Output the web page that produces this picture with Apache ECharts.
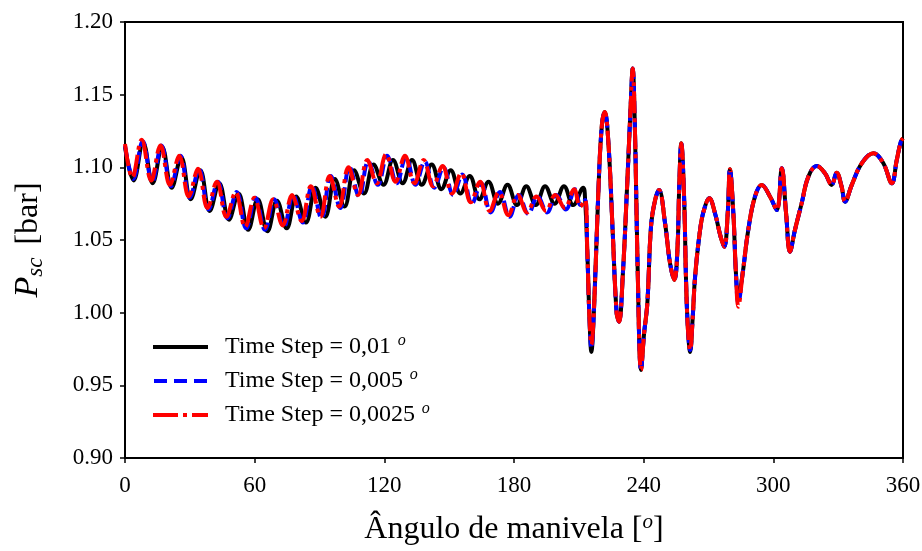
<!DOCTYPE html>
<html>
<head>
<meta charset="utf-8">
<script src="https://cdn.jsdelivr.net/npm/echarts@6/dist/echarts.min.js"></script>
<style>
  html, body { margin: 0; padding: 0; background: #fff; }
  #chart { width: 922px; height: 551px; }
</style>
</head>
<body>
<div id="chart"></div>
<script>
// series names (legend)
var names = ['Time Step = 0,01', 'Time Step = 0,005', 'Time Step = 0,0025'];

// [angle (deg), P_sc (bar)], peaks and troughs of the start-up ripple
var blackStart = [[0,1.114],[4.0,1.091],[8.4,1.117],[12.8,1.089],[17.2,1.114],[21.6,1.086],[26.0,1.107],[30.4,1.078],[34.8,1.098],[39.2,1.070],[43.6,1.089],[48.1,1.064],[52.5,1.082],[57.0,1.057],[61.4,1.078],[65.9,1.056],[70.3,1.077],[74.8,1.058],[79.2,1.080],[83.7,1.062],[88.2,1.086],[92.7,1.066],[97.1,1.092],[101.6,1.073],[106.0,1.098],[110.6,1.082],[115.0,1.102],[119.6,1.088],[124.0,1.105],[128.5,1.089],[132.8,1.105],[137.3,1.088],[141.9,1.102],[146.4,1.085],[150.7,1.098],[155.2,1.082],[159.5,1.094],[164.0,1.078],[168.2,1.090],[172.6,1.075],[177.0,1.088],[181.4,1.074],[185.7,1.087],[190.1,1.074],[194.4,1.087],[198.8,1.075],[203.1,1.087],[207.4,1.074],[212.0,1.086]];
var blueStart = [[0,1.115],[3.9,1.092],[8.2,1.118],[12.6,1.090],[16.9,1.115],[21.3,1.087],[25.6,1.108],[30.0,1.079],[34.3,1.099],[38.7,1.071],[43.0,1.090],[47.4,1.065],[51.7,1.083],[56.1,1.058],[60.4,1.079],[64.8,1.057],[69.1,1.078],[73.5,1.059],[77.8,1.081],[82.2,1.062],[86.5,1.087],[90.9,1.065],[95.2,1.094],[99.6,1.072],[103.9,1.100],[108.3,1.080],[112.6,1.104],[117.0,1.088],[121.3,1.108],[125.7,1.089],[130.0,1.107],[134.4,1.088],[138.7,1.104],[143.1,1.086],[147.4,1.100],[151.8,1.081],[156.1,1.095],[160.5,1.075],[164.8,1.089],[169.2,1.069],[173.5,1.083],[177.9,1.066],[182.2,1.081],[186.6,1.068],[190.9,1.080],[195.3,1.069],[199.6,1.081],[204.0,1.071],[208.2,1.085],[210.8,1.074]];
var redStart = [[0,1.116],[3.4,1.093],[7.7,1.119],[12.1,1.091],[16.4,1.115],[20.8,1.088],[25.1,1.108],[29.5,1.080],[33.8,1.099],[38.2,1.072],[42.5,1.090],[46.9,1.066],[51.2,1.083],[55.6,1.059],[59.9,1.079],[64.3,1.058],[68.6,1.078],[73.0,1.060],[77.3,1.081],[81.7,1.063],[86.0,1.087],[90.4,1.066],[94.7,1.094],[99.1,1.073],[103.4,1.100],[107.8,1.081],[112.1,1.105],[116.5,1.089],[120.8,1.109],[125.2,1.090],[129.5,1.108],[133.9,1.089],[138.2,1.105],[142.6,1.087],[146.9,1.101],[151.3,1.082],[155.6,1.096],[160.0,1.076],[164.3,1.090],[168.7,1.070],[173.0,1.083],[177.4,1.067],[181.7,1.081],[186.1,1.069],[190.4,1.080],[194.8,1.070],[199.1,1.081],[203.5,1.072],[207.8,1.085],[210.6,1.073]];

// after ~213 deg the three runs lie on top of each other
var tail = [[212.9,1.0775],[213.9,1.043],[214.9,0.997],[215.8,0.9755],[217.0,1.002],[219.0,1.082],[220.6,1.128],[222.0,1.138],[223.7,1.1165],[225.7,1.0546],[227.5,0.9996],[228.6,0.9938],[230.3,1.0248],[232.4,1.089],[234.1,1.1463],[234.9,1.168],[236.0,1.1234],[237.2,1.0316],[238.8,0.9606],[240.2,0.9858],[241.7,1.0064],[243.4,1.0592],[245.3,1.0775],[247.1,1.0844],[249.9,1.0615],[252.2,1.034],[254.2,1.0225],[255.6,1.043],[256.5,1.089],[257.4,1.1165],[258.7,1.0798],[259.6,1.0225],[260.5,0.988],[261.5,0.9743],[262.7,0.997],[263.8,1.0248],[266.1,1.0569],[267.9,1.0706],[270.4,1.0787],[273.0,1.0684],[275.6,1.0523],[277.3,1.0454],[278.9,1.0684],[279.9,1.0987],[281.5,1.0684],[282.7,1.027],[283.8,1.0064],[285.8,1.027],[288.4,1.0569],[291.5,1.0798],[294.6,1.0879],[298.5,1.0798],[301.6,1.0706],[303.9,1.0993],[305.9,1.0684],[307.7,1.042],[310.0,1.0569],[313.1,1.0752],[316.2,1.0936],[320.1,1.1009],[323.9,1.0959],[327.0,1.0879],[329.3,1.0963],[331.6,1.0867],[333.2,1.0764],[336.3,1.0879],[340.9,1.1028],[346.3,1.1097],[350.9,1.1028],[354.8,1.089],[357.1,1.105],[359.0,1.1176],[360,1.120]];

// small per-run differences in the tail troughs
var blackTailFix = [[215.8,0.973],[261.5,0.973],[283.8,1.011]];
var redTailFix = [[215.8,0.978],[283.8,1.004]];

function withFixes(start, fixes) {
    var t = tail.map(function (p) {
        var f = fixes.filter(function (q) { return q[0] === p[0]; })[0];
        return f ? [p[0], f[1]] : p;
    });
    return start.concat(t);
}

var font = 'Liberation Serif';

// legend samples: solid, dashed, dash-dot
var icons = [
    'path://M0,0H55V4H0Z',
    'path://M0,0H13V4H0Z M20,0H33V4H20Z M40,0H53V4H40Z',
    'path://M0,0H25V4H0Z M30,0H34V4H30Z M39,0H55V4H39Z'
];

var dom = document.getElementById('chart');
var myChart = echarts.init(dom, null, { renderer: 'canvas' });

var option = {
    animation: false,
    grid: {
        left: 125, right: 19, top: 22, bottom: 93,
        outerBoundsMode: 'none',
        containLabel: false,
        show: true, borderColor: '#000', borderWidth: 2
    },
    legend: {
        orient: 'vertical',
        left: 148,
        top: 328,
        itemWidth: 55,
        itemHeight: 4,
        itemGap: 8,
        data: names.map(function (n, i) { return { name: n, icon: icons[i] }; }),
        formatter: function (name) {
            return '{t|' + name + '}  {s|o}';
        },
        textStyle: {
            color: '#000',
            padding: [0, 0, 0, 12],
            rich: {
                t: { fontFamily: font, fontSize: 24, color: '#000' },
                s: { fontFamily: font, fontSize: 16, fontStyle: 'italic', color: '#000', padding: [0, 0, 12, 0] }
            }
        }
    },
    xAxis: {
        type: 'value',
        min: 0, max: 360, interval: 60,
        name: 'Ângulo de manivela [{s|o}]',
        nameLocation: 'middle',
        nameGap: 54,
        nameTextStyle: {
            fontFamily: font, fontSize: 32, color: '#000',
            rich: {
                s: { fontFamily: font, fontSize: 21, fontStyle: 'italic', color: '#000', padding: [0, 0, 14, 0] }
            }
        },
        axisLine: { lineStyle: { color: '#000', width: 2 } },
        axisTick: { lineStyle: { color: '#000', width: 1.5 }, length: 5 },
        axisLabel: { fontFamily: font, fontSize: 23, color: '#000', margin: 16 },
        splitLine: { show: false }
    },
    yAxis: {
        type: 'value',
        min: 0.9, max: 1.2, interval: 0.05,
        name: '{p|P}{b|sc} [bar]',
        nameLocation: 'middle',
        nameGap: 78,
        nameTextStyle: {
            fontFamily: font, fontSize: 32, color: '#000',
            rich: {
                p: { fontFamily: font, fontSize: 34, fontStyle: 'italic', color: '#000' },
                b: { fontFamily: font, fontSize: 23, fontStyle: 'italic', color: '#000', padding: [14, 5, 0, 0] }
            }
        },
        axisLine: { show: true, lineStyle: { color: '#000', width: 2 } },
        axisTick: { show: true, lineStyle: { color: '#000', width: 1.5 }, length: 5 },
        axisLabel: {
            fontFamily: font, fontSize: 23, color: '#000', margin: 12,
            formatter: function (v) { return v.toFixed(2); }
        },
        splitLine: { show: false }
    },
    series: [
        {
            name: names[0], type: 'line', symbol: 'none', smooth: 0.4,
            data: withFixes(blackStart, blackTailFix),
            lineStyle: { color: '#000', width: 4 },
            itemStyle: { color: '#000' }
        },
        {
            name: names[1], type: 'line', symbol: 'none', smooth: 0.4,
            data: withFixes(blueStart, []),
            lineStyle: { color: '#0000ff', width: 4, type: [12, 5] },
            itemStyle: { color: '#0000ff' }
        },
        {
            name: names[2], type: 'line', symbol: 'none', smooth: 0.4,
            data: withFixes(redStart, redTailFix),
            lineStyle: { color: '#ff0000', width: 4, type: [22, 5, 4, 5] },
            itemStyle: { color: '#ff0000' }
        }
    ]
};

myChart.setOption(option);
window.addEventListener('resize', myChart.resize);
</script>
</body>
</html>
